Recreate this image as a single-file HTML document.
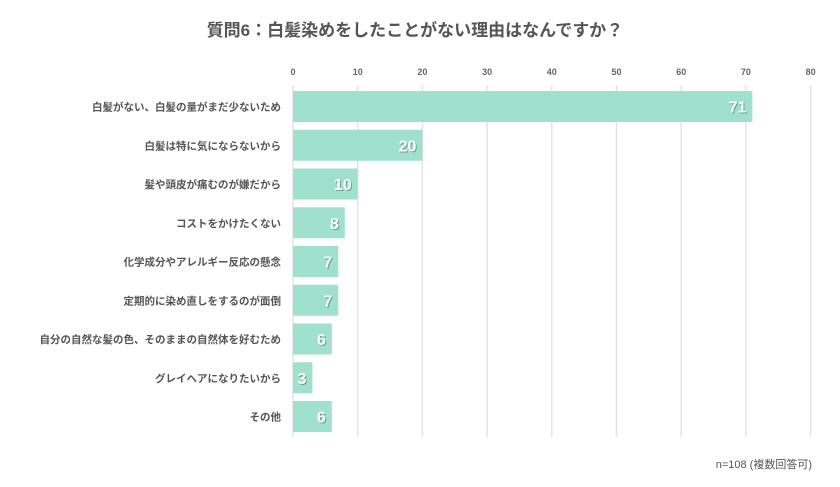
<!DOCTYPE html>
<html><head><meta charset="utf-8"><style>
body{margin:0;background:#fff;font-family:"Liberation Sans","Noto Sans CJK JP",sans-serif;}
svg text{font-family:"Liberation Sans","Noto Sans CJK JP",sans-serif;}
</style></head><body>
<svg width="840" height="482">
<text x="415" y="36" text-anchor="middle" font-size="17" font-weight="bold" fill="#555">質問6：白髪染めをしたことがない理由はなんですか？</text>
<g id="grid"></g><g id="bars"></g><g id="labels"></g>
<text x="812" y="468" text-anchor="end" font-size="11" fill="#555">n=108 (複数回答可)</text>
</svg>
<script>
const categories=["白髪がない、白髪の量がまだ少ないため","白髪は特に気にならないから","髪や頭皮が痛むのが嫌だから","コストをかけたくない","化学成分やアレルギー反応の懸念","定期的に染め直しをするのが面倒","自分の自然な髪の色、そのままの自然体を好むため","グレイヘアになりたいから","その他"];
const values=[71,20,10,8,7,7,6,3,6];
const ticks=[0,10,20,30,40,50,60,70,80];
const ns="http://www.w3.org/2000/svg";
const x0=293,pxPer=6.47,top0=91,pitch=38.75,bh=31;
const X=v=>x0+v*pxPer, Y=i=>top0+i*pitch;
function mk(t,a,p){const e=document.createElementNS(ns,t);for(const k in a)e.setAttribute(k,a[k]);p.appendChild(e);return e;}
const grid=document.getElementById('grid'),bars=document.getElementById('bars'),labels=document.getElementById('labels');
ticks.forEach(t=>{
 const l=mk('line',{x1:X(t),x2:X(t),y1:85,y2:437,stroke:'#e4e4e4','stroke-width':1.5},grid);
 
 
 const tx=mk('text',{x:X(t),y:75,'text-anchor':'middle','font-size':9,'font-weight':'bold',fill:'#666'},grid);
 tx.textContent=t;
 
 
});
values.forEach((v,i)=>{
 const r=mk('rect',{x:X(0),y:Y(i),width:X(v)-X(0),height:bh,fill:'#9fe1cd'},bars);
 
 
 const s=mk('text',{x:X(v)-6+1,y:Y(i)+bh/2+6+1,'text-anchor':'end','font-size':16,'font-weight':'bold',fill:'#6a9e8e'},bars);
 s.textContent=v;
 
 
 const t=mk('text',{x:X(v)-6,y:Y(i)+bh/2+6,'text-anchor':'end','font-size':16,'font-weight':'bold',fill:'#fff'},bars);
 t.textContent=v;
 
 
 const c=mk('text',{x:281,y:Y(i)+bh/2+4,'text-anchor':'end','font-size':10.5,'font-weight':'bold',fill:'#555'},labels);
 c.textContent=categories[i];
 
 
});
</script>
</body></html>
